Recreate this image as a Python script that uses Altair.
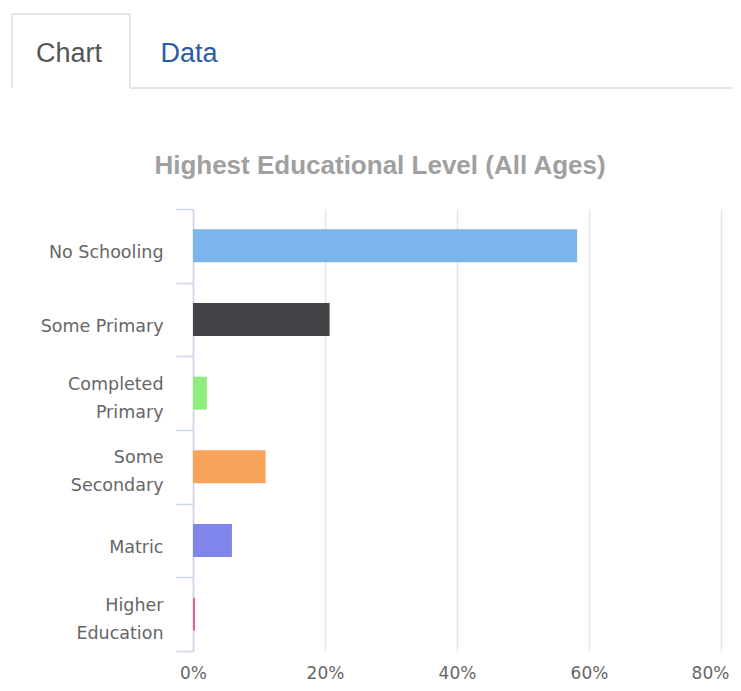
import altair as alt
import pandas as pd

# ---- data ----
categories = ["No Schooling", "Some Primary", "Completed Primary",
              "Some Secondary", "Matric", "Higher Education"]
values = [58.2, 20.7, 2.1, 11.0, 5.9, 0.3]
colors = ["#7cb5ec", "#434348", "#90ed7d", "#f7a35c", "#8085e9", "#f15c80"]
wrapped = ["Completed Primary", "Some Secondary", "Higher Education"]
x_ticks = [0, 20, 40, 60, 80]
title_text = "Highest Educational Level (All Ages)"
tab_labels = ["Chart", "Data"]
tab_colors = ["#555555", "#2a5d9f"]

df = pd.DataFrame({"level": categories, "pct": values, "color": colors})

W, H = 528, 442
wrap_list = "[" + ",".join("'%s'" % w for w in wrapped) + "]"
wrap_test = "indexof(%s, datum.label) >= 0" % wrap_list

bars = alt.Chart(df).mark_bar(size=33).encode(
    y=alt.Y(
        "level:N", sort=categories,
        scale=alt.Scale(paddingInner=0, paddingOuter=0),
        axis=alt.Axis(
            title=None, grid=False, tickBand="extent",
            domainColor="#ccd6eb", domainWidth=1.5,
            tickColor="#ccd6eb", tickWidth=1.5, tickSize=17,
            labelPadding=13, labelFont="DejaVu Sans", labelFontSize=17.5,
            labelColor="#666666", labelLineHeight=28, labelOverlap=False,
            labelOffset={"condition": {"test": wrap_test, "value": -9}, "value": 7},
            labelExpr="%s ? split(datum.label, ' ') : datum.label" % wrap_test,
        ),
    ),
    x=alt.X(
        "pct:Q",
        scale=alt.Scale(domain=[0, 80], nice=False),
        axis=alt.Axis(
            title=None, values=x_ticks, labelExpr="datum.value + '%'",
            domain=False, ticks=False, gridColor="#e6e6e6", gridWidth=1.5,
            labelPadding=27, labelBaseline="alphabetic",
            labelFont="DejaVu Sans", labelFontSize=17,
            labelColor="#666666", labelFlush=False, labelOverlap=False,
            labelOffset={"condition": {"test": "datum.value == 80", "value": -11}, "value": 0},
        ),
    ),
    color=alt.Color("color:N", scale=None, legend=None),
)

one = pd.DataFrame({"a": [0]})
border = "#dddddd"

def rule(x1, x2, y1, y2):
    return alt.Chart(one).mark_rule(color=border, strokeWidth=1.5).encode(
        x=alt.value(x1), x2=alt.value(x2), y=alt.value(y1), y2=alt.value(y2))

tab_left = rule(-181, -181, -195, -121)
tab_top = rule(-181, -63, -195, -195)
tab_right = rule(-63, -63, -195, -121)
tab_bottom = rule(-63, 560, -121, -121)

tabs_df = pd.DataFrame({"label": tab_labels, "c": tab_colors, "px": [-124, -4]})
tabs = alt.Chart(tabs_df).mark_text(
    font="Liberation Sans", fontSize=27, baseline="alphabetic", align="center"
).encode(
    text="label:N",
    x=alt.X("px:Q", scale=None),
    y=alt.value(-147),
    color=alt.Color("c:N", scale=None, legend=None),
)

title_df = pd.DataFrame({"t": [title_text]})
title = alt.Chart(title_df).mark_text(
    font="Liberation Sans", fontWeight="bold", fontSize=26,
    color="#a0a0a0", baseline="alphabetic", align="center"
).encode(text="t:N", x=alt.value(187), y=alt.value(-35))

chart = alt.layer(
    bars, tab_left, tab_top, tab_right, tab_bottom, tabs, title
).properties(
    width=W, height=H,
    autosize=alt.AutoSizeParams(type="none"),
    padding={"left": 185, "top": 201, "right": 12, "bottom": 32},
    background="white",
).configure_view(stroke=None)

chart.save("out.html", embed_options={"renderer": "svg", "actions": False})
